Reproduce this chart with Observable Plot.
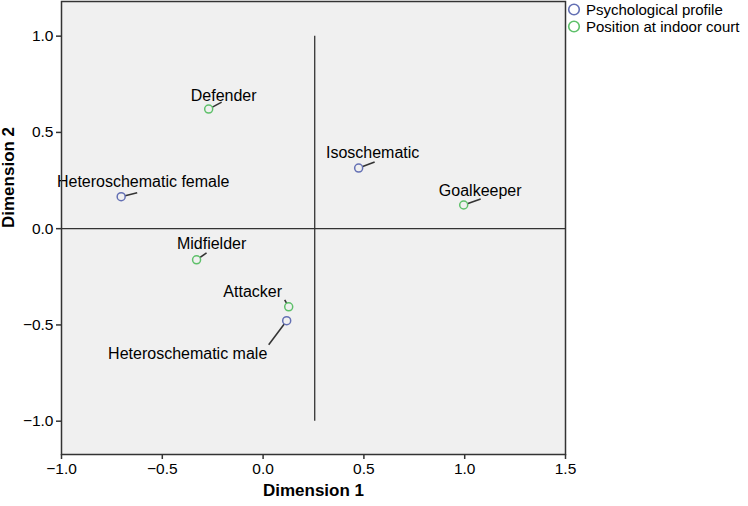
<!DOCTYPE html>
<html>
<head>
<meta charset="utf-8">
<script src="https://cdn.jsdelivr.net/npm/d3@7"></script>
<script src="https://cdn.jsdelivr.net/npm/@observablehq/plot@0.6"></script>
<style>
  html, body { margin: 0; padding: 0; background: #fff; }
  #wrap { position: relative; width: 748px; height: 506px; font-family: "Liberation Sans", Arial, sans-serif; }
  #legend { position: absolute; left: 567px; top: 1px; font-size: 15px; color: #000; line-height: 17px; }
  #legend div { display: flex; align-items: center; white-space: nowrap; height: 17px; }
  #legend svg { margin-right: 5px; }
</style>
</head>
<body>
<div id="wrap"><div id="legend"></div></div>
<script>
// ---- data ----
const labels = ["Heteroschematic female", "Isoschematic", "Heteroschematic male",
                "Defender", "Goalkeeper", "Midfielder", "Attacker"];
const dim1 = [-0.704, 0.474, 0.117, -0.270, 0.995, -0.330, 0.127];
const dim2 = [0.166, 0.315, -0.478, 0.621, 0.123, -0.162, -0.406];
const groups = ["Psychological profile", "Psychological profile", "Psychological profile",
                "Position at indoor court", "Position at indoor court", "Position at indoor court", "Position at indoor court"];
const seriesNames = ["Psychological profile", "Position at indoor court"];
const xTicks = [-1.0, -0.5, 0.0, 0.5, 1.0, 1.5];
const yTicks = [-1.0, -0.5, 0.0, 0.5, 1.0];
const centroidX = 0.256;

// ---- label placement (pixels, relative to point) ----
const labelDx = [22, 14, -99, 15, 16.5, 15, -36];
const labelDy = [-15, -15, 33, -13, -14, -16, -15];
const leaderDx = [16, 16, -18, 13, 17, 10, -4];
const leaderDy = [-4, -6, 24, -7, -6, -7, -7];

// ---- layout ----
const W = 748, H = 506;
const mL = 61, mR = 183, mT = 1, mB = 52;
const xDomain = [-1, 1.5], yDomain = [-1.173, 1.18];
const kx = (W - mL - mR) / (xDomain[1] - xDomain[0]);
const ky = (H - mT - mB) / (yDomain[1] - yDomain[0]);
const colors = ["#6470b4", "#5ec06a"];

const pts = labels.map((l, i) => ({
  label: l, x: dim1[i], y: dim2[i], g: groups[i],
  ldx: labelDx[i], ldy: labelDy[i],
  x2: dim1[i] + leaderDx[i] / kx, y2: dim2[i] - leaderDy[i] / ky
}));

const font = "Liberation Sans, Arial, sans-serif";

const chart = Plot.plot({
  width: W, height: H,
  marginLeft: mL, marginRight: mR, marginTop: mT, marginBottom: mB,
  style: { fontFamily: font, fontSize: "16px", color: "#000", background: "transparent" },
  x: { domain: xDomain, ticks: xTicks, tickFormat: d3.format(".1f"), label: null },
  y: { domain: yDomain, ticks: yTicks, tickFormat: d3.format(".1f"), label: null },
  color: { domain: seriesNames, range: colors },
  marks: [
    Plot.frame({ fill: "#f0f0f0", stroke: null }),
    Plot.ruleY([0], { stroke: "#333", strokeWidth: 1.3 }),
    Plot.ruleX([centroidX], { y1: -1, y2: 1, stroke: "#333", strokeWidth: 1.3 }),
    Plot.link(pts, { x1: "x", y1: "y", x2: "x2", y2: "y2", stroke: "#333", strokeWidth: 1.6 }),
    Plot.dot(pts, { x: "x", y: "y", r: 4, stroke: "g", fill: "#f0f0f0", strokeWidth: 1.5 }),
    ...pts.map(p => Plot.text([p], { x: "x", y: "y", text: "label", dx: p.ldx, dy: p.ldy, fontSize: 16, fill: "#000" })),
    Plot.axisX({ ticks: xTicks, tickFormat: d3.format(".1f"), tickSize: 5, tickPadding: 3, stroke: "#333", strokeWidth: 1.5, fontSize: 15.5, fill: "#000", label: null }),
    Plot.axisY({ ticks: yTicks, tickFormat: d3.format(".1f"), tickSize: 5, tickPadding: 3, stroke: "#333", strokeWidth: 1.5, fontSize: 15.5, fill: "#000", label: null }),
    Plot.frame({ stroke: "#333", strokeWidth: 1.5 }),
    Plot.text(["Dimension 1"], { frameAnchor: "bottom", dy: 41, fontWeight: "bold", fontSize: 17, fill: "#000" }),
    Plot.text(["Dimension 2"], { frameAnchor: "left", dx: -53, rotate: -90, fontWeight: "bold", fontSize: 17, fill: "#000" })
  ]
});
const wrap = document.getElementById("wrap");
wrap.insertBefore(chart, wrap.firstChild);

// legend
const legend = document.getElementById("legend");
seriesNames.forEach((s, i) => {
  const row = document.createElement("div");
  row.innerHTML = `<svg width="14" height="15"><circle cx="7" cy="7.5" r="5.3" fill="none" stroke="${colors[i]}" stroke-width="1.6"/></svg><span>${s}</span>`;
  legend.appendChild(row);
});
</script>
</body>
</html>
